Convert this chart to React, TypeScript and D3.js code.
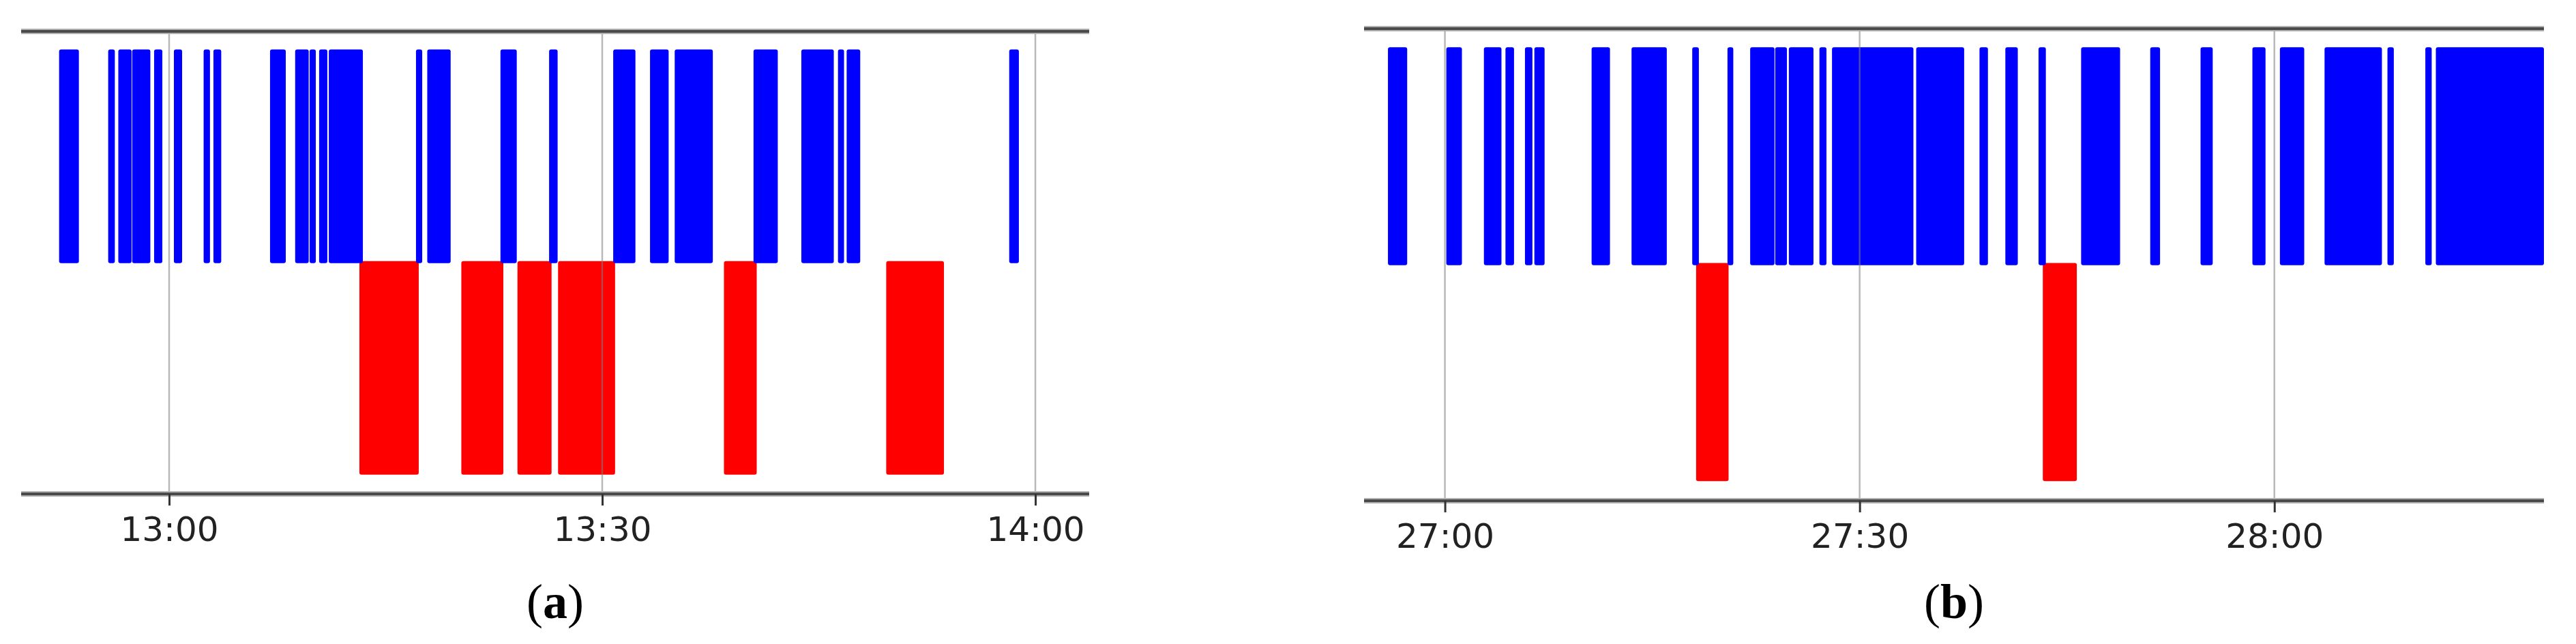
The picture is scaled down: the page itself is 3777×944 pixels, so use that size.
import React, { useEffect, useRef } from 'react';
import * as d3 from 'd3';

// times are minutes of the day; each interval is [start, end]
const blueA = [
  [772.38, 773.75], [775.78, 776.24], [776.48, 777.4], [777.44, 778.7],
  [778.96, 779.53], [780.33, 780.9], [782.39, 782.83], [783.07, 783.61],
  [786.99, 788.08], [788.73, 789.67], [789.73, 790.16], [790.39, 790.96],
  [791.06, 793.42], [797.1, 797.53], [797.88, 799.5], [802.95, 804.08],
  [806.32, 806.91], [810.76, 812.3], [813.31, 814.6], [815.02, 817.66],
  [820.48, 822.16], [823.79, 826.04], [826.33, 826.75], [826.93, 827.87],
  [838.19, 838.86],
];
const redA = [
  [793.18, 797.29], [800.24, 803.15], [804.13, 806.49], [806.94, 810.89],
  [818.43, 820.7], [829.67, 833.67],
];
const blueB = [
  [1615.88, 1617.27], [1620.1, 1621.23], [1622.82, 1624.09], [1624.38, 1625.0],
  [1625.79, 1626.33], [1626.47, 1627.21], [1630.61, 1631.94], [1633.5, 1636.05],
  [1637.89, 1638.37], [1640.44, 1640.86], [1642.08, 1643.84], [1643.89, 1644.74],
  [1644.88, 1646.66], [1647.09, 1647.6], [1648.0, 1653.89], [1654.09, 1657.56],
  [1658.67, 1659.28], [1660.54, 1661.44], [1662.94, 1663.47], [1666.02, 1668.84],
  [1671.02, 1671.73], [1674.66, 1675.54], [1678.41, 1679.36], [1680.4, 1682.16],
  [1683.63, 1687.78], [1688.18, 1688.64], [1690.92, 1691.38], [1691.68, 1699.5],
];
const redB = [
  [1638.17, 1640.52], [1663.25, 1665.71],
];
const ticksA = [780, 810, 840];
const ticksB = [1620, 1650, 1680];
const domainA = [769.75, 843.73];
const domainB = [1614.15, 1699.5];
const captions = ['a', 'b'];

const fmt = (m) => `${Math.floor(m / 60)}:${String(m % 60).padStart(2, '0')}`;

const panels = [
  { blue: blueA, red: redA, ticks: ticksA, domain: domainA, x0: 31, x1: 1597, top: 46, bottom: 724, label: captions[0] },
  { blue: blueB, red: redB, ticks: ticksB, domain: domainB, x0: 2000, x1: 3730, top: 42, bottom: 734, label: captions[1] },
];

const App = () => {
  const svgRef = useRef(null);

  useEffect(() => {
    const svg = d3.select(svgRef.current);
    svg.selectAll('*').remove();

    panels.forEach((p) => {
      const x = d3.scaleLinear().domain(p.domain).range([p.x0, p.x1]);
      // blue state sits on level 1..2, red state on level 0..1
      const y = d3.scaleLinear().domain([-0.08, 2.085]).range([p.bottom, p.top]);
      const g = svg.append('g');

      g.selectAll('rect.red')
        .data(p.red)
        .enter()
        .append('rect')
        .attr('class', 'red')
        .attr('x', (d) => x(d[0]))
        .attr('width', (d) => x(d[1]) - x(d[0]))
        .attr('y', y(1.01))
        .attr('height', y(0.01) - y(1.01))
        .attr('rx', 3)
        .attr('fill', '#ff0000');

      g.selectAll('rect.blue')
        .data(p.blue)
        .enter()
        .append('rect')
        .attr('class', 'blue')
        .attr('x', (d) => x(d[0]))
        .attr('width', (d) => Math.min(x(d[1]), p.x1) - x(d[0]))
        .attr('y', y(2))
        .attr('height', y(1) - y(2))
        .attr('rx', 3)
        .attr('fill', '#0000ff');

      // vertical grid on top of the bars
      g.selectAll('line.grid')
        .data(p.ticks)
        .enter()
        .append('line')
        .attr('class', 'grid')
        .attr('x1', (d) => x(d))
        .attr('x2', (d) => x(d))
        .attr('y1', p.top)
        .attr('y2', p.bottom)
        .attr('stroke', '#7f7f7f')
        .attr('stroke-opacity', 0.55)
        .attr('stroke-width', 2.5);

      // top and bottom spines
      [p.top, p.bottom].forEach((yy) => {
        g.append('line')
          .attr('x1', p.x0).attr('x2', p.x1)
          .attr('y1', yy).attr('y2', yy)
          .attr('stroke', '#b0b0b0')
          .attr('stroke-width', 8);
        g.append('line')
          .attr('x1', p.x0).attr('x2', p.x1)
          .attr('y1', yy).attr('y2', yy)
          .attr('stroke', '#4a4a4a')
          .attr('stroke-width', 4);
      });

      const axis = d3.axisBottom(x)
        .tickValues(p.ticks)
        .tickFormat(fmt)
        .tickSize(17)
        .tickPadding(16);

      const ax = g.append('g')
        .attr('transform', `translate(0, ${p.bottom})`)
        .call(axis);
      ax.select('.domain').remove();
      ax.selectAll('.tick line').attr('stroke', '#333').attr('stroke-width', 3);
      ax.selectAll('.tick text')
        .attr('font-family', 'DejaVu Sans, sans-serif')
        .attr('font-size', 50)
        .attr('fill', '#222');

      const cap = g.append('text')
        .attr('x', (p.x0 + p.x1) / 2)
        .attr('y', 906)
        .attr('text-anchor', 'middle')
        .attr('font-family', 'Liberation Serif, Times New Roman, serif')
        .attr('font-size', 72)
        .attr('fill', '#000');
      cap.append('tspan').text('(');
      cap.append('tspan').attr('font-weight', 'bold').text(p.label);
      cap.append('tspan').text(')');
    });
  }, []);

  return (
    <svg
      ref={svgRef}
      width={3777}
      height={944}
      style={{ position: 'absolute', left: 0, top: 0, background: '#fff' }}
    />
  );
};

export default App;
